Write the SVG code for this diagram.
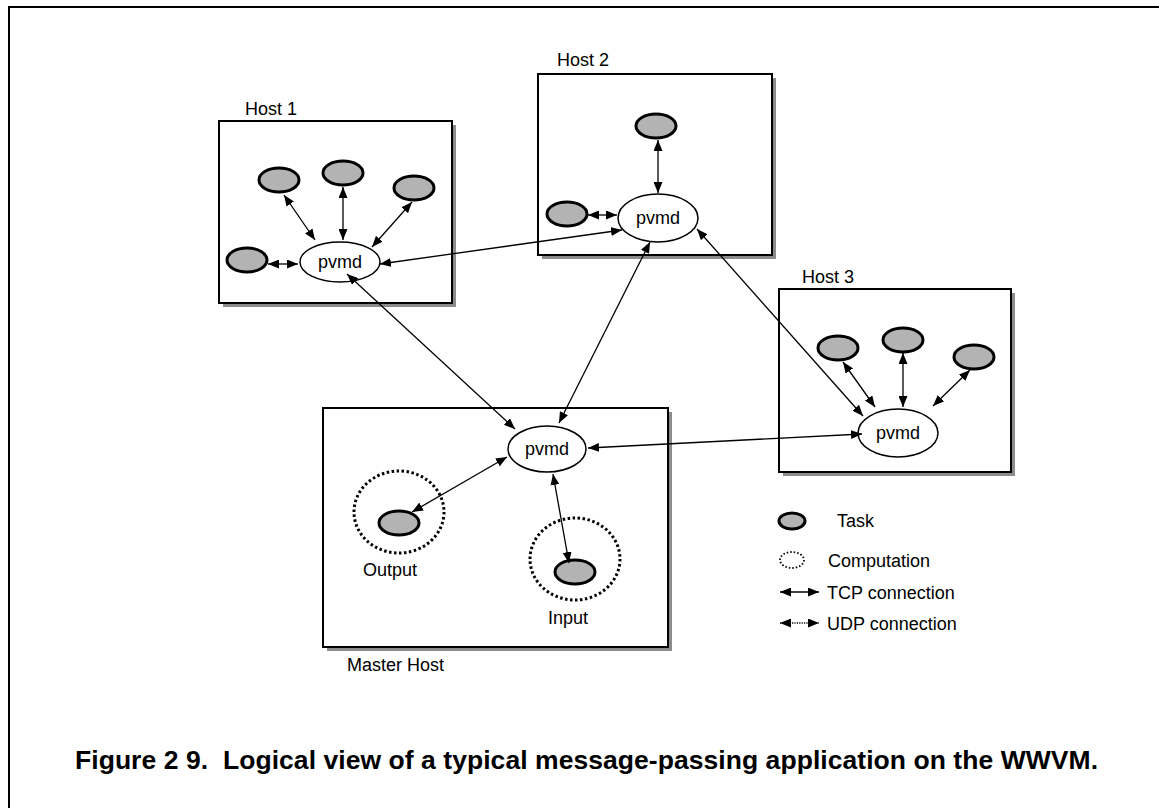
<svg xmlns="http://www.w3.org/2000/svg" width="1159" height="808" viewBox="0 0 1159 808">
  <style>
    .frame { fill: none; stroke: #000; stroke-width: 2; }
    .box { fill: #fff; stroke: #000; stroke-width: 2; }
    .shadow { fill: #8c8c8c; }
    .task { fill: #b3b3b3; stroke: #000; stroke-width: 3; }
    .pvmd { fill: #fff; stroke: #000; stroke-width: 1.5; }
    .comp { fill: none; stroke: #000; stroke-width: 3; stroke-dasharray: 2.5 2.5; }
    .link { fill: none; stroke: #000; stroke-width: 1.3; marker-start: url(#head); marker-end: url(#head); }
    .udp { stroke-dasharray: 1.2 1.2; }
    text { font-family: "Liberation Sans", Arial, sans-serif; font-size: 18px; fill: #000; }
    .pv { text-anchor: middle; }
    .caption { font-size: 26.5px; font-weight: bold; white-space: pre; }
  </style>
  <defs>
    <marker id="head" markerUnits="userSpaceOnUse" markerWidth="11" markerHeight="9" viewBox="0 0 11 9" refX="11" refY="4.5" orient="auto-start-reverse">
      <path d="M0,0 L11,4.5 L0,9 z" fill="#000"/>
    </marker>
  </defs>

  <!-- page frame: top and left rules only -->
  <path class="frame" d="M9,808 V7 H1159"/>

  <!-- Host 1 -->
  <g id="host1">
    <rect class="shadow" x="223" y="125" width="233" height="182"/>
    <rect class="box" x="219" y="121" width="233" height="182"/>
    <text x="245" y="115">Host 1</text>
    <ellipse class="task" cx="279" cy="180" rx="20" ry="12"/>
    <ellipse class="task" cx="343" cy="173" rx="20" ry="12"/>
    <ellipse class="task" cx="414" cy="188" rx="20" ry="12"/>
    <ellipse class="task" cx="247" cy="260" rx="20" ry="12"/>
    <ellipse class="pvmd" cx="340" cy="262" rx="40" ry="20"/>
    <text class="pv" x="340" y="268">pvmd</text>
  </g>

  <!-- Host 2 -->
  <g id="host2">
    <rect class="shadow" x="542" y="78" width="234" height="181"/>
    <rect class="box" x="538" y="74" width="234" height="181"/>
    <text x="557" y="66">Host 2</text>
    <ellipse class="task" cx="656" cy="126" rx="20" ry="12"/>
    <ellipse class="task" cx="567" cy="214" rx="20" ry="12"/>
    <ellipse class="pvmd" cx="658" cy="218" rx="40" ry="24"/>
    <text class="pv" x="658" y="224">pvmd</text>
  </g>

  <!-- Host 3 -->
  <g id="host3">
    <rect class="shadow" x="783" y="293" width="232" height="183"/>
    <rect class="box" x="779" y="289" width="232" height="183"/>
    <text x="802" y="283">Host 3</text>
    <ellipse class="task" cx="838" cy="348" rx="20" ry="12"/>
    <ellipse class="task" cx="903" cy="340" rx="20" ry="12"/>
    <ellipse class="task" cx="974" cy="357" rx="20" ry="12"/>
    <ellipse class="pvmd" cx="898" cy="433" rx="40" ry="24"/>
    <text class="pv" x="898" y="439">pvmd</text>
  </g>

  <!-- Master host -->
  <g id="master">
    <rect class="shadow" x="327" y="412" width="345" height="239"/>
    <rect class="box" x="323" y="408" width="345" height="239"/>
    <text x="347" y="671">Master Host</text>
    <ellipse class="pvmd" cx="547" cy="449" rx="39" ry="23"/>
    <text class="pv" x="547" y="455">pvmd</text>
    <ellipse class="comp" cx="399" cy="512" rx="45" ry="41"/>
    <ellipse class="task" cx="399" cy="523" rx="20" ry="12"/>
    <text x="363" y="576">Output</text>
    <ellipse class="comp" cx="575" cy="559" rx="45" ry="41"/>
    <ellipse class="task" cx="575" cy="572" rx="20" ry="12"/>
    <text x="548" y="624">Input</text>
  </g>

  <!-- connectors -->
  <g id="connectors">
    <!-- Host 1 local -->
    <line class="link" x1="284" y1="195" x2="315" y2="240"/>
    <line class="link" x1="343" y1="187" x2="343" y2="240"/>
    <line class="link" x1="412" y1="202" x2="372" y2="247"/>
    <line class="link" x1="268" y1="264" x2="298" y2="264"/>
    <!-- Host 2 local -->
    <line class="link" x1="658" y1="140" x2="658" y2="193"/>
    <line class="link" x1="588" y1="215" x2="617" y2="215"/>
    <!-- Host 3 local -->
    <line class="link" x1="843" y1="362" x2="875" y2="407"/>
    <line class="link" x1="903" y1="353" x2="903" y2="407"/>
    <line class="link" x1="970" y1="370" x2="933" y2="406"/>
    <!-- between daemons -->
    <line class="link" x1="380" y1="264" x2="622" y2="230"/>
    <line class="link" x1="347" y1="274" x2="515" y2="429"/>
    <line class="link" x1="650" y1="242" x2="559" y2="423"/>
    <line class="link" x1="697" y1="229" x2="863" y2="416"/>
    <line class="link" x1="588" y1="448" x2="862" y2="434"/>
    <!-- master local -->
    <line class="link" x1="507" y1="457" x2="412" y2="512"/>
    <line class="link" x1="553" y1="474" x2="569" y2="563"/>
  </g>

  <!-- legend -->
  <g id="legend">
    <ellipse class="task" cx="792" cy="521" rx="13" ry="8"/>
    <text x="837" y="527">Task</text>
    <ellipse cx="792" cy="560" rx="12" ry="8" fill="none" stroke="#000" stroke-width="1.8" stroke-dasharray="1.5 2"/>
    <text x="828" y="567">Computation</text>
    <line class="link" x1="780" y1="592" x2="819" y2="592"/>
    <text x="827" y="599">TCP connection</text>
    <line class="link udp" x1="780" y1="623" x2="819" y2="623"/>
    <text x="827" y="630">UDP connection</text>
  </g>

  <text class="caption" x="75" y="769" textLength="1023">Figure 2 9.  Logical view of a typical message-passing application on the WWVM.</text>
</svg>
